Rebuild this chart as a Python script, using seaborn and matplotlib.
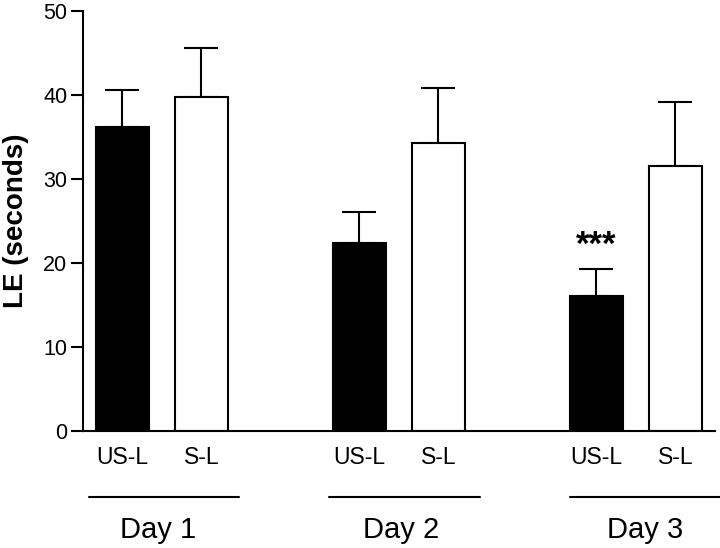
import matplotlib
matplotlib.use("Agg")
import matplotlib.pyplot as plt
import matplotlib.transforms as mtransforms
import numpy as np
import pandas as pd
import seaborn as sns

# ---- data ----
days = ["Day 1", "Day 2", "Day 3"]
groups = ["US-L", "S-L"]
us_l_mean = [36.2, 22.4, 16.0]
s_l_mean = [39.7, 34.3, 31.5]
us_l_upper = [40.6, 26.0, 19.3]   # top of error bar
s_l_upper = [45.6, 40.8, 39.1]
y_ticks = [0, 10, 20, 30, 40, 50]
y_label = "LE (seconds)"
signif_label = "***"

sns.set_theme(style="ticks")
plt.rcParams["font.family"] = ["Liberation Sans", "DejaVu Sans"]
plt.rcParams["text.color"] = "black"
plt.rcParams["axes.labelcolor"] = "black"
plt.rcParams["xtick.color"] = "black"
plt.rcParams["ytick.color"] = "black"
plt.rcParams["xtick.labelcolor"] = "black"
plt.rcParams["ytick.labelcolor"] = "black"

# build table
rows = []
gap = 3
for i, d in enumerate(days):
    rows.append(dict(pos=i * gap + 0, value=us_l_mean[i], upper=us_l_upper[i], group="US-L", day=d))
    rows.append(dict(pos=i * gap + 1, value=s_l_mean[i], upper=s_l_upper[i], group="S-L", day=d))
df = pd.DataFrame(rows)

fig = plt.figure(figsize=(7.2, 5.48), dpi=100)
ax = fig.add_axes([0.1157, 0.214, 0.993 - 0.1157, 0.98 - 0.214])

sns.barplot(data=df, x="pos", y="value", hue="group", native_scale=True, dodge=False,
            palette={"US-L": "black", "S-L": "white"}, edgecolor="black", linewidth=1.5,
            width=0.67, legend=False, errorbar=None, ax=ax, zorder=2)

err = (df["upper"] - df["value"]).to_numpy()
ax.errorbar(df["pos"], df["value"], yerr=[np.zeros_like(err), err], fmt="none",
            ecolor="black", elinewidth=1.5, capsize=12, capthick=1.5, zorder=1)

ax.set_xlim(-0.496, 7.5)
ax.set_ylim(0, 50)
ax.set_yticks(y_ticks)
ax.set_yticklabels([str(t) for t in y_ticks], fontsize=15.5)
ax.set_xticks(df["pos"])
ax.set_xticklabels(df["group"], fontsize=16.5)
ax.tick_params(axis="x", length=0, pad=11)
ax.tick_params(axis="y", length=8.4, width=1.5, pad=3)
ax.set_xlabel("")
ax.set_ylabel(y_label, fontsize=20, fontweight="bold", labelpad=10)
for s in ["top", "right"]:
    ax.spines[s].set_visible(False)
for s in ["left", "bottom"]:
    ax.spines[s].set_linewidth(1.5)
    ax.spines[s].set_color("black")

# significance marker
d3 = df[(df["day"] == days[2]) & (df["group"] == "US-L")].iloc[0]
ax.text(d3["pos"], d3["upper"] + 2.8, signif_label, ha="center", va="center",
        fontsize=25, fontweight="bold")

# day group lines and labels
trans = mtransforms.blended_transform_factory(ax.transData, ax.transAxes)
for i, d in enumerate(days):
    c = i * gap + 0.5
    x0, x1 = c - 0.93 + 0.05 * i, c + 0.97 + 0.05 * i
    ax.plot([x0, x1], [-0.157, -0.157], color="black", lw=1.5, transform=trans,
            clip_on=False)
    ax.text(c - 0.05 + 0.08 * i, -0.237, d, ha="center", va="center", fontsize=21,
            transform=trans)

fig.savefig("out.png", dpi=100)
